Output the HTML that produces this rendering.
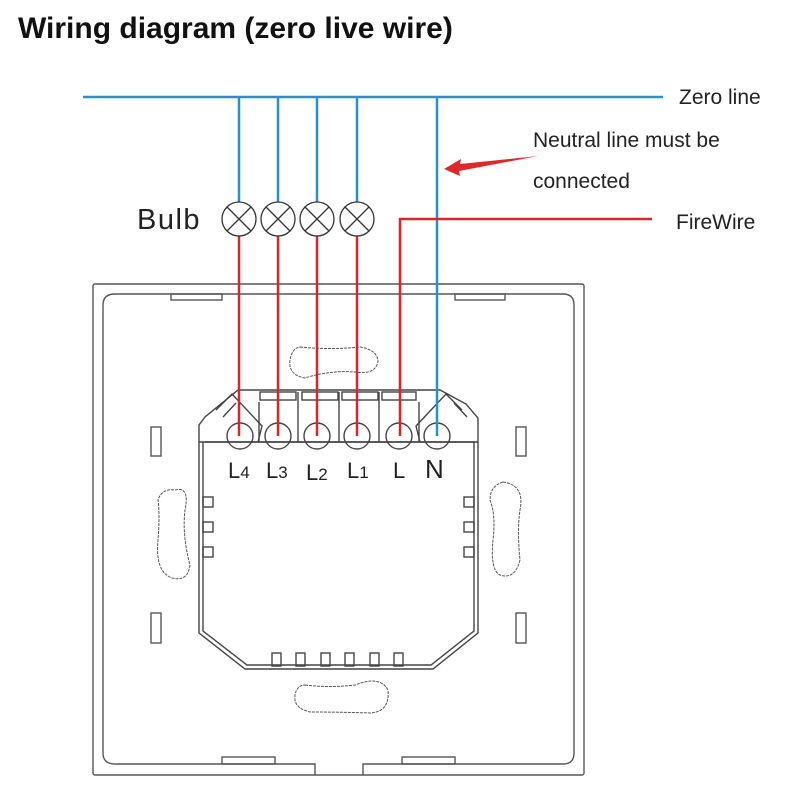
<!DOCTYPE html>
<html><head><style>
body{margin:0;background:#fff;}
svg{display:block}
</style></head><body>
<svg width="800" height="800" viewBox="0 0 800 800" xmlns="http://www.w3.org/2000/svg" font-family="Liberation Sans, sans-serif">
<rect width="800" height="800" fill="#fff"/>
<text x="18" y="38" font-size="30" font-weight="bold" fill="#111">Wiring diagram (zero live wire)</text>
<text x="679" y="104" font-size="21" fill="#222">Zero line</text>
<text x="533" y="147" font-size="21" fill="#222">Neutral line must be</text>
<text x="533" y="188" font-size="21" fill="#222">connected</text>
<text x="676" y="229" font-size="21" fill="#222">FireWire</text>
<text x="137" y="229" font-size="29" fill="#222" letter-spacing="1.5">Bulb</text>

<!-- frame -->
<g fill="none" stroke="#555" stroke-width="1.4">
<rect x="93" y="284" width="491" height="491" rx="2"/>
<path d="M315 775 V764 H115 Q103 764 103 753 V305 Q103 294 115 294 H563 Q574 294 574 305 V753 Q574 764 563 764 H363 V775"/>
<rect x="171" y="294" width="51" height="6"/>
<rect x="455" y="294" width="50" height="6"/>
<rect x="222" y="757" width="53" height="7"/>
<rect x="402" y="757" width="53" height="7"/>
<rect x="151" y="427" width="10" height="29"/>
<rect x="151" y="613" width="10" height="30"/>
<rect x="516" y="427" width="10" height="29"/>
<rect x="516" y="613" width="10" height="30"/>
</g>
<g fill="none" stroke="#555" stroke-width="1" stroke-dasharray="3 1">
<path d="M175 490 Q190 486 185 510 Q182 535 190 565 Q188 582 172 578 Q155 572 158 540 Q160 515 158 500 Q162 488 175 490Z"/>
<path d="M503 482 Q490 486 490 500 Q496 515 493 540 Q490 570 500 575 Q515 580 520 560 Q517 530 520 510 Q525 485 503 482Z"/>
<path d="M300 347 Q330 350 360 347 Q378 350 378 362 Q375 375 355 372 Q330 370 305 378 Q288 375 290 360 Q292 348 300 347Z"/>
<path d="M305 685 Q330 688 355 685 Q380 675 388 690 Q390 712 370 713 Q340 712 310 712 Q293 708 295 695 Q297 685 305 685Z"/>
</g>
<!-- module -->
<g fill="none" stroke="#444" stroke-width="1.4">
<path d="M199 442 V633 L245 669 H433 L478 633 V442"/>
<path d="M203 442 V631 L247 665 H431 L474 631 V442"/>
<path d="M199 442 V425 L205 417 L238 390 H440 L466 404 L478 418 V442 Z"/>
<path d="M205 442 H474"/>
<path d="M216 410 L232 394 L262 426 L258 442 M420 442 L416 426 L446 394 L462 410"/>
<path d="M223 417 L236 403 M454 403 L467 417"/>
<rect x="260" y="392" width="36" height="8"/><rect x="302" y="392" width="36" height="8"/><rect x="342" y="392" width="36" height="8"/><rect x="382" y="392" width="34" height="8"/>
<path d="M259 402 V442 M298 392 V442 M339 392 V442 M379 392 V442 M419 402 V442"/>
<circle cx="240" cy="436" r="13"/><circle cx="278" cy="436" r="13"/><circle cx="317" cy="436" r="13"/><circle cx="357" cy="436" r="13"/><circle cx="399" cy="436" r="13"/><circle cx="437" cy="436" r="13"/>
<rect x="203" y="497" width="10" height="10"/><rect x="203" y="522" width="10" height="10"/><rect x="203" y="547" width="10" height="10"/>
<rect x="464" y="497" width="10" height="10"/><rect x="464" y="522" width="10" height="10"/><rect x="464" y="547" width="10" height="10"/>
<rect x="272" y="653" width="9" height="13"/><rect x="296" y="653" width="9" height="13"/><rect x="321" y="653" width="9" height="13"/><rect x="345" y="653" width="9" height="13"/><rect x="370" y="653" width="9" height="13"/><rect x="394" y="653" width="9" height="13"/>
</g>
<g font-size="22" fill="#222">
<text x="228" y="478">L<tspan font-size="17">4</tspan></text>
<text x="266" y="478">L<tspan font-size="17">3</tspan></text>
<text x="306" y="480">L<tspan font-size="17">2</tspan></text>
<text x="347" y="478">L<tspan font-size="17">1</tspan></text>
<text x="393" y="478">L</text>
<text x="425" y="478" font-size="26">N</text>
</g>
<!-- wires -->
<g stroke="#2a8fcc" stroke-width="2.5" fill="none">
<path d="M83 97 H663"/>
<path d="M239 97 V202 M278 97 V202 M317 97 V202 M357 97 V202 M437 97 V436"/>
</g>
<g stroke="#d9262a" stroke-width="2.5" fill="none">
<path d="M239 236 V436 M278 236 V436 M317 236 V436 M357 236 V436"/>
<path d="M652 219 H400 V436"/>
</g>
<g stroke="#333" stroke-width="1.3" fill="none">
<g><circle cx="239" cy="219" r="17"/><path d="M227 207 L251 231 M251 207 L227 231"/></g>
<g><circle cx="278" cy="219" r="17"/><path d="M266 207 L290 231 M290 207 L266 231"/></g>
<g><circle cx="317" cy="219" r="17"/><path d="M305 207 L329 231 M329 207 L305 231"/></g>
<g><circle cx="357" cy="219" r="17"/><path d="M345 207 L369 231 M369 207 L345 231"/></g>
</g>
<path d="M538 156 L460 164 L461 159 L444 169 L460 176 L459 171 Z" fill="#e0282a"/>
</svg>
</body></html>
